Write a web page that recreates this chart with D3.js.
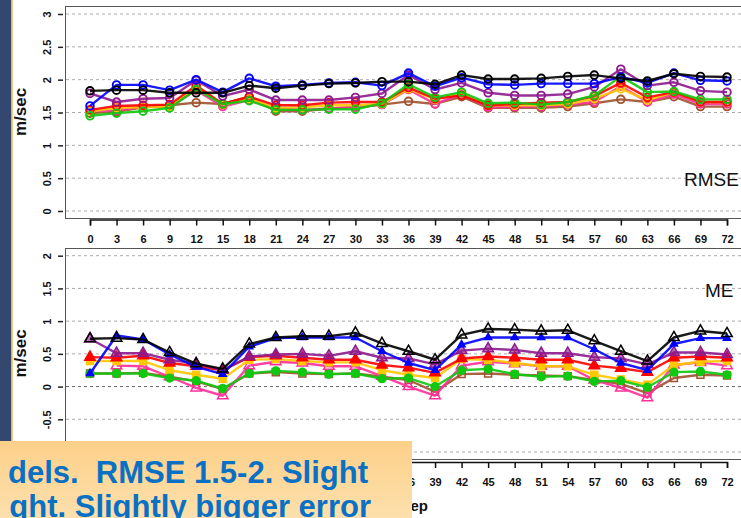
<!DOCTYPE html>
<html>
<head>
<meta charset="utf-8">
<script src="https://cdn.jsdelivr.net/npm/d3@7"></script>
<style>
  body { margin: 0; background: #fff; }
  svg { display: block; font-family: "Liberation Sans", Arial, sans-serif; }
  .grid line { stroke: #aaa; stroke-dasharray: 3,3; }
  .xax text { font-family: "Liberation Sans Narrow", "Liberation Sans", Arial, sans-serif; font-weight: bold; font-size: 11px; }
  .yax text { font-weight: bold; font-size: 11px; }
  .note { white-space: pre; }
</style>
</head>
<body>
<div id="chart"></div>
<script>
// forecast hours on the x axis
var hours = [0, 3, 6, 9, 12, 15, 18, 21, 24, 27, 30, 33, 36, 39, 42, 45, 48, 51, 54, 57, 60, 63, 66, 69, 72];
var rmseTicks = [0, 0.5, 1, 1.5, 2, 2.5, 3];
var meTicks = [-1, -0.5, 0, 0.5, 1, 1.5, 2];
var meTickLabels = ["-1", "-0.5", "0", "0.5", "1", "1.5", "2"];
var rmseTickLabels = ["0", "0.5", "1", "1.5", "2", "2.5", "3"];

// model names, drawn bottom to top
var models = ["brown", "pink", "gold", "red", "green", "purple", "blue", "black"];

// RMSE (m/sec) per model
var rmseBrown  = [1.49, 1.51, 1.58, 1.61, 1.65, 1.63, 1.74, 1.52, 1.52, 1.56, 1.58, 1.62, 1.67, 1.63, 1.74, 1.57, 1.57, 1.57, 1.59, 1.64, 1.70, 1.66, 1.74, 1.59, 1.59];
var rmsePink   = [1.53, 1.53, 1.59, 1.58, 1.84, 1.59, 1.69, 1.56, 1.54, 1.56, 1.58, 1.62, 1.85, 1.63, 1.78, 1.58, 1.59, 1.59, 1.62, 1.66, 1.90, 1.66, 1.78, 1.63, 1.63];
var rmseGold   = [1.52, 1.57, 1.58, 1.59, 1.89, 1.62, 1.71, 1.57, 1.58, 1.61, 1.61, 1.63, 1.86, 1.70, 1.80, 1.61, 1.61, 1.61, 1.63, 1.71, 1.86, 1.69, 1.81, 1.66, 1.66];
var rmseRed    = [1.54, 1.60, 1.61, 1.62, 1.91, 1.63, 1.74, 1.61, 1.61, 1.65, 1.66, 1.66, 1.88, 1.71, 1.76, 1.61, 1.63, 1.65, 1.66, 1.75, 1.95, 1.73, 1.81, 1.66, 1.66];
var rmseGreen  = [1.45, 1.49, 1.52, 1.57, 1.85, 1.63, 1.68, 1.54, 1.54, 1.55, 1.55, 1.64, 1.93, 1.73, 1.81, 1.64, 1.65, 1.62, 1.66, 1.76, 2.05, 1.81, 1.82, 1.70, 1.70];
var rmsePurple = [1.79, 1.66, 1.71, 1.72, 1.99, 1.75, 1.85, 1.69, 1.69, 1.69, 1.73, 1.79, 2.07, 1.85, 1.95, 1.80, 1.76, 1.76, 1.78, 1.89, 2.16, 1.91, 1.96, 1.83, 1.81];
var rmseBlue   = [1.60, 1.92, 1.92, 1.84, 2.00, 1.81, 2.02, 1.90, 1.92, 1.95, 1.96, 1.91, 2.10, 1.90, 2.03, 1.93, 1.92, 1.94, 1.94, 1.94, 2.04, 1.95, 2.10, 1.99, 1.98];
var rmseBlack  = [1.83, 1.84, 1.84, 1.80, 1.80, 1.80, 1.91, 1.87, 1.91, 1.94, 1.95, 1.97, 1.97, 1.93, 2.07, 2.01, 2.01, 2.02, 2.05, 2.07, 2.02, 1.98, 2.09, 2.05, 2.04];

// mean error (m/sec) per model
var meBrown  = [0.20, 0.20, 0.21, 0.15, 0.08, -0.04, 0.20, 0.22, 0.20, 0.19, 0.20, 0.15, 0.10, -0.08, 0.19, 0.20, 0.18, 0.17, 0.16, 0.10, 0.04, -0.10, 0.13, 0.18, 0.17];
var mePink   = [null, 0.32, 0.31, 0.15, -0.02, -0.14, 0.32, 0.38, 0.36, 0.31, 0.31, 0.16, 0.00, -0.14, 0.32, 0.38, 0.35, 0.31, 0.31, 0.10, -0.02, -0.17, 0.33, 0.37, 0.32];
var meGold   = [0.39, 0.39, 0.39, 0.25, 0.18, 0.12, 0.41, 0.42, 0.39, 0.37, 0.37, 0.25, 0.18, 0.13, 0.42, 0.41, 0.36, 0.31, 0.31, 0.18, 0.11, 0.03, 0.33, 0.38, 0.39];
var meRed    = [0.45, 0.44, 0.47, 0.36, 0.31, 0.25, 0.45, 0.47, 0.44, 0.41, 0.41, 0.33, 0.29, 0.21, 0.43, 0.46, 0.44, 0.41, 0.41, 0.32, 0.28, 0.22, 0.44, 0.46, 0.44];
var meGreen  = [0.20, 0.20, 0.20, 0.13, 0.09, -0.03, 0.20, 0.24, 0.22, 0.19, 0.20, 0.12, 0.13, 0.00, 0.25, 0.27, 0.19, 0.15, 0.16, 0.08, 0.09, -0.01, 0.22, 0.23, 0.18];
var mePurple = [0.73, 0.51, 0.51, 0.41, 0.35, 0.25, 0.46, 0.49, 0.50, 0.47, 0.54, 0.44, 0.43, 0.34, 0.55, 0.58, 0.56, 0.51, 0.51, 0.45, 0.43, 0.34, 0.52, 0.52, 0.49];
var meBlue   = [0.20, 0.78, 0.72, 0.49, 0.30, 0.19, 0.61, 0.74, 0.75, 0.75, 0.75, 0.54, 0.36, 0.25, 0.64, 0.75, 0.75, 0.75, 0.75, 0.57, 0.36, 0.25, 0.65, 0.74, 0.74];
var meBlack  = [0.73, 0.74, 0.72, 0.52, 0.35, 0.27, 0.65, 0.75, 0.77, 0.77, 0.82, 0.66, 0.54, 0.41, 0.79, 0.88, 0.87, 0.85, 0.86, 0.70, 0.54, 0.39, 0.75, 0.85, 0.81];

var rmseData = [rmseBrown, rmsePink, rmseGold, rmseRed, rmseGreen, rmsePurple, rmseBlue, rmseBlack];
var meData = [meBrown, mePink, meGold, meRed, meGreen, mePurple, meBlue, meBlack];

var colors = {brown: "#a0522d", pink: "#ff2f9a", gold: "#ffc800", red: "#ff0000",
              green: "#10c810", purple: "#8e1a8e", blue: "#0000ff", black: "#000000"};
// marker style in the ME panel
var meShape = {brown: d3.symbolSquare, pink: d3.symbolTriangle, gold: d3.symbolSquare, red: d3.symbolTriangle,
               green: d3.symbolCircle, purple: d3.symbolTriangle, blue: d3.symbolTriangle, black: d3.symbolTriangle};
var meFilled = {brown: false, pink: false, gold: true, red: true, green: true, purple: true, blue: true, black: false};

var W = 741, H = 518;
var svg = d3.select("#chart").append("svg").attr("width", W).attr("height", H);

var x = d3.scaleLinear().domain([0, 72]).range([90, 727]);
var yTop = d3.scaleLinear().domain([0, 3]).range([211, 14]);
var yBot = d3.scaleLinear().domain([-1, 2]).range([452, 255.7]);

function panel(y, ticks, labels, top, bottom, axisY, data, useShapes, title, titleX, titleY) {
  // grid
  svg.append("g").attr("class", "grid")
    .selectAll("line").data(ticks).join("line")
      .attr("x1", 66).attr("x2", W)
      .attr("y1", d => y(d)).attr("y2", d => y(d))
      .style("stroke", d => d === 0 && useShapes ? "#666" : null);

  // box
  svg.append("rect").attr("x", 65.5).attr("y", top + 0.5)
      .attr("width", W).attr("height", bottom - top)
      .attr("fill", "none").attr("stroke", "#555").attr("stroke-width", 1);

  // y axis with rotated labels
  var ya = svg.append("g").attr("class", "yax")
      .attr("transform", "translate(63,0)")
      .call(d3.axisLeft(y).tickValues(ticks).tickSize(5).tickFormat((d, i) => labels[i]));
  ya.select(".domain").remove();
  ya.selectAll(".tick line").attr("stroke", "#222").attr("stroke-width", 1.5);
  ya.selectAll(".tick text")
      .attr("transform", "rotate(-90)")
      .attr("x", 0).attr("y", -16).attr("dy", "0.35em")
      .attr("text-anchor", "middle").attr("fill", "#111");

  // x axis
  var xa = svg.append("g").attr("class", "xax")
      .attr("transform", "translate(0," + axisY + ")")
      .call(d3.axisBottom(x).tickValues(hours).tickSize(6).tickPadding(10));
  xa.select(".domain").attr("stroke", "#111").attr("stroke-width", 1.5);
  xa.selectAll(".tick line").attr("stroke", "#111").attr("stroke-width", 1.5);
  xa.selectAll(".tick text").attr("fill", "#111");

  var line = d3.line()
      .defined(d => d != null)
      .x((d, i) => x(hours[i]))
      .y(d => y(d));

  models.forEach(function(m, k) {
    var vals = data[k];
    var g = svg.append("g");
    g.append("path").datum(vals)
        .attr("d", line)
        .attr("fill", "none")
        .attr("stroke", colors[m])
        .attr("stroke-width", 2.4)
        .attr("stroke-opacity", 0.9)
        .attr("stroke-linejoin", "round");
    var pts = hours.map((h, i) => ({h: h, v: vals[i]})).filter(p => p.v != null);
    if (!useShapes) {
      g.selectAll("circle").data(pts).join("circle")
          .attr("cx", p => x(p.h)).attr("cy", p => y(p.v)).attr("r", 3.8)
          .attr("fill", "none").attr("stroke", colors[m]).attr("stroke-width", 1.9);
    } else {
      var sz = m === "blue" ? 22 : 48;
      g.selectAll("path.mk").data(pts).join("path")
          .attr("class", "mk")
          .attr("transform", p => "translate(" + x(p.h) + "," + y(p.v) + ")")
          .attr("d", d3.symbol().type(meShape[m]).size(sz))
          .attr("fill", meFilled[m] ? colors[m] : "none")
          .attr("fill-opacity", m === "purple" ? 0.6 : 1)
          .attr("stroke", colors[m]).attr("stroke-width", 1.5);
    }
  });

  svg.append("text").attr("x", titleX).attr("y", titleY)
      .attr("font-size", 19).attr("fill", "#111").text(title);

  // y title
  svg.append("text")
      .attr("transform", "translate(26," + ((top + bottom) / 2) + ") rotate(-90)")
      .attr("text-anchor", "middle")
      .attr("font-size", 17).attr("font-weight", "bold").attr("fill", "#111")
      .text("m/sec");
}

panel(yTop, rmseTicks, rmseTickLabels, 6, 218, 219.5, rmseData, false, "RMSE", 684, 186);
panel(yBot, meTicks, meTickLabels, 248, 459, 462, meData, true, "ME", 705, 297);

// x axis title, mostly hidden by the note box
svg.append("text").attr("x", 428).attr("y", 511)
    .attr("text-anchor", "end").attr("font-size", 15).attr("font-weight", "bold")
    .attr("fill", "#111").text("Forecast time step");

// slide side bar
svg.append("rect").attr("x", 0).attr("y", 0).attr("width", 11).attr("height", H).attr("fill", "#34476e");
svg.append("rect").attr("x", 11).attr("y", 0).attr("width", 1.6).attr("height", H).attr("fill", "#f0b030");

// note box overlapping the chart
var defs = svg.append("defs");
var grad = defs.append("linearGradient").attr("id", "note").attr("x1", 0).attr("y1", 0).attr("x2", 0).attr("y2", 1);
grad.append("stop").attr("offset", "0%").attr("stop-color", "#fcd089");
grad.append("stop").attr("offset", "100%").attr("stop-color", "#fde0ad");
svg.append("rect").attr("x", 0).attr("y", 441).attr("width", 412).attr("height", H - 441).attr("fill", "url(#note)");

var noteLines = ["dels.  RMSE 1.5-2. Slight", "ght. Slightly bigger error"];
svg.append("g").selectAll("text").data(noteLines).join("text")
    .attr("class", "note")
    .attr("x", (d, i) => i === 0 ? 368 : 371)
    .attr("y", (d, i) => 483 + i * 34)
    .attr("text-anchor", "end")
    .attr("font-size", 31).attr("font-weight", "bold")
    .attr("fill", "#0a70c4")
    .text(d => d);
</script>
</body>
</html>
